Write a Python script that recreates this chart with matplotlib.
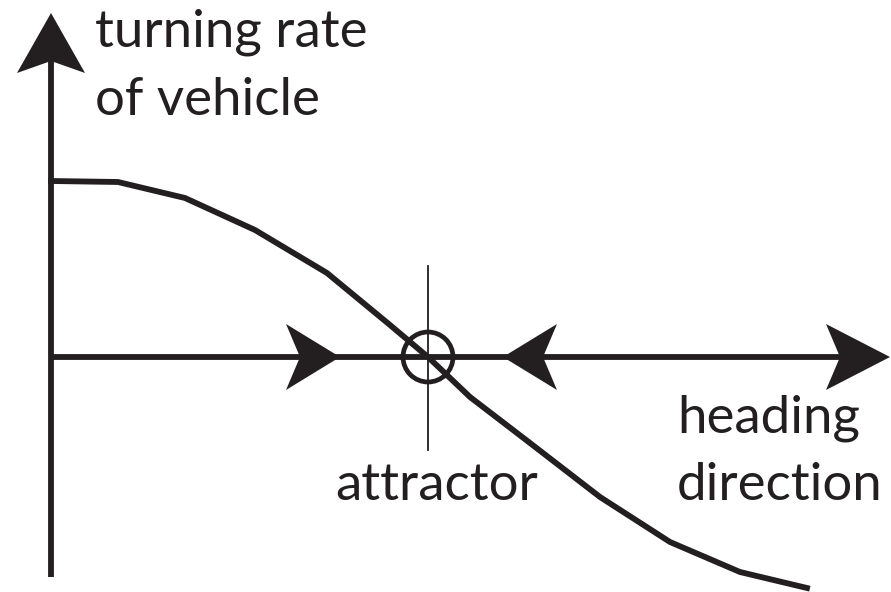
import matplotlib.pyplot as plt
from matplotlib.patches import Polygon, Circle

INK = "#231f20"

# curve (origin at axis crossing, 1 unit ~ 1 px)
heading = [0, 67, 134, 204, 276, 339, 377, 419, 479, 549, 619, 689, 756]
turning_rate = [176, 175, 159, 127, 84, 32, 0, -40, -86, -140, -185, -215, -231]

attractor_x = 377
y_label = "turning rate\nof vehicle"
x_label = "heading\ndirection"
point_label = "attractor"

plt.rcParams["font.family"] = ["Lato", "DejaVu Sans"]


def arrowhead(ax, x, y, dx, dy, length=54, half=33, notch=14):
    # swept-back arrowhead, tip at (x, y), pointing along (dx, dy)
    px, py = -dy, dx
    bx, by = x - dx * length, y - dy * length
    pts = [(x, y),
           (bx + px * half, by + py * half),
           (bx + dx * notch, by + dy * notch),
           (bx - px * half, by - py * half)]
    ax.add_patch(Polygon(pts, closed=True, color=INK, lw=0, zorder=5))


fig = plt.figure(figsize=(8.91, 5.92), dpi=100)
ax = fig.add_axes([0, 0, 1, 1])
ax.set_xlim(-51, 840)
ax.set_ylim(-235, 357)
ax.axis("off")

# axes
ax.plot([0, 0], [-220, 300], color=INK, lw=4.2, solid_capstyle="butt")
ax.plot([0, 790], [0, 0], color=INK, lw=4.2, solid_capstyle="butt")
arrowhead(ax, 0, 344, 0, 1, length=60, half=34, notch=12)
arrowhead(ax, 839, 0, 1, 0, length=64, half=33, notch=14)

# flow arrows toward the attractor
arrowhead(ax, 289, 0, 1, 0)
arrowhead(ax, 452, 0, -1, 0)

# curve
ax.plot(heading, turning_rate, color=INK, lw=4.2, solid_joinstyle="round")

# attractor marker
ax.plot([attractor_x, attractor_x], [-93, 91], color=INK, lw=1.3)
ax.add_patch(Circle((attractor_x, 0), 25, fill=False, ec=INK, lw=3.4, zorder=6))

fs = 38
ax.text(44, 310, y_label.split("\n")[0], fontsize=fs, color=INK, va="baseline")
ax.text(44, 242, y_label.split("\n")[1], fontsize=fs, color=INK, va="baseline")
ax.text(626, -76, x_label.split("\n")[0], fontsize=fs, color=INK, va="baseline")
ax.text(626, -143, x_label.split("\n")[1], fontsize=fs, color=INK, va="baseline")
ax.text(284, -143, point_label, fontsize=fs, color=INK, va="baseline")

fig.savefig("out.png", dpi=100)
